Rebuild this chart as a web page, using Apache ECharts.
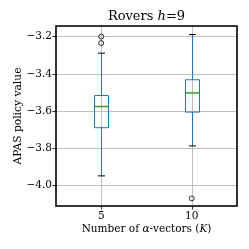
<!DOCTYPE html>
<html><head><meta charset="utf-8">
<script src="https://cdn.jsdelivr.net/npm/echarts@6/dist/echarts.min.js"></script>
<style>html,body{margin:0;padding:0;background:#fff}#c{width:249px;height:249px}</style>
</head><body><div id="c"></div>
<script>
const categories = ['5', '10'];
const whiskerLow = [-3.949, -3.788];
const q1 = [-3.690, -3.606];
const median = [-3.576, -3.503];
const q3 = [-3.517, -3.432];
const whiskerHigh = [-3.289, -3.189];
const outliers5 = [-3.200, -3.235];
const outliers10 = [-4.070];
const yMin = -4.111, yMax = -3.143;

const FONT = 'DejaVu Serif';
const fmt = v => (Math.abs(v) < 1e-9 ? '0.0' : v.toFixed(1).replace('-', '\u2212'));

const boxData = categories.map((c, i) => [i, whiskerLow[i], q1[i], median[i], q3[i], whiskerHigh[i]]);
const outlierData = [];
outliers5.forEach(v => outlierData.push([0, v]));
outliers10.forEach(v => outlierData.push([1, v]));

const chart = echarts.init(document.getElementById('c'), null, {renderer: 'canvas'});
chart.setOption({
  animation: false,
  backgroundColor: '#fff',
  title: {
    text: '{n|Rovers }{i|h}{n|=9}',
    left: 'center', top: 5,
    textStyle: {fontWeight: 'normal', rich: {
      n: {fontFamily: FONT, fontSize: 13, fontWeight: 'normal', color: '#000'},
      i: {fontFamily: FONT, fontSize: 13, fontWeight: 'normal', fontStyle: 'italic', color: '#000'}
    }}
  },
  grid: {left: 56, right: 12, top: 26, bottom: 43, show: false, containLabel: false, outerBoundsMode: 'none'},
  xAxis: {
    type: 'category', data: categories, boundaryGap: true,
    axisLine: {show: false},
    axisTick: {show: true, alignWithLabel: true, length: 3.5, lineStyle: {color: '#000', width: 0.8}},
    axisLabel: {fontFamily: FONT, fontSize: 10.5, color: '#000', margin: 5},
    splitLine: {show: false},
    name: '{n|Number of }{i|\u03b1}{n|-vectors (}{i|K}{n|)}',
    nameLocation: 'middle', nameGap: 18, nameMoveOverlap: false,
    nameTextStyle: {rich: {
      n: {fontFamily: FONT, fontSize: 10.5, color: '#000'},
      i: {fontFamily: FONT, fontSize: 10.5, fontStyle: 'italic', color: '#000'}
    }}
  },
  yAxis: {
    type: 'value', min: yMin, max: yMax,
    axisLine: {show: false},
    axisTick: {show: true, length: 3.5, lineStyle: {color: '#000', width: 0.8}},
    axisLabel: {fontFamily: FONT, fontSize: 10.5, color: '#000', margin: 4, formatter: fmt,
      showMinLabel: false, showMaxLabel: false},
    splitLine: {show: true, lineStyle: {color: '#b0b0b0', width: 0.8}},
    name: 'APAS policy value', nameLocation: 'middle', nameGap: 32, nameMoveOverlap: false,
    nameTextStyle: {fontFamily: FONT, fontSize: 10.7, color: '#000'}
  },
  series: [
    {
      type: 'custom', data: boxData, z: 3,
      encode: {x: 0, y: [1, 2, 3, 4, 5]},
      renderItem: function (params, api) {
        const x = api.value(0);
        const lo = api.coord([x, api.value(1)]);
        const b1 = api.coord([x, api.value(2)]);
        const md = api.coord([x, api.value(3)]);
        const b3 = api.coord([x, api.value(4)]);
        const hi = api.coord([x, api.value(5)]);
        const cs = params.coordSys;
        const bw = api.size([1, 0])[0] * 0.155;
        const cx = Math.round(lo[0]) + 0.5;
        const half = bw / 2, capHalf = bw / 4;
        const blue = '#1f77b4';
        return {type: 'group', children: [
          {type: 'line', z2: -10, shape: {x1: cx, y1: cs.y, x2: cx, y2: cs.y + cs.height}, style: {stroke: '#b0b0b0', lineWidth: 0.8}},
          {type: 'line', z2: 5, shape: {x1: cx, y1: b3[1], x2: cx, y2: hi[1]}, style: {stroke: blue, lineWidth: 1}},
          {type: 'line', z2: 5, shape: {x1: cx, y1: b1[1], x2: cx, y2: lo[1]}, style: {stroke: blue, lineWidth: 1}},
          {type: 'line', z2: 6, shape: {x1: cx - capHalf, y1: hi[1], x2: cx + capHalf, y2: hi[1]}, style: {stroke: '#000', lineWidth: 1}},
          {type: 'line', z2: 6, shape: {x1: cx - capHalf, y1: lo[1], x2: cx + capHalf, y2: lo[1]}, style: {stroke: '#000', lineWidth: 1}},
          {type: 'rect', z2: 5, shape: {x: cx - half, y: b3[1], width: bw, height: b1[1] - b3[1]}, style: {fill: 'none', stroke: blue, lineWidth: 1}},
          {type: 'line', z2: 7, shape: {x1: cx - half, y1: md[1], x2: cx + half, y2: md[1]}, style: {stroke: '#2ca02c', lineWidth: 1.5}}
        ]};
      }
    },
    {
      type: 'scatter', data: outlierData, z: 4,
      symbol: 'circle', symbolSize: 5,
      itemStyle: {color: 'rgba(0,0,0,0)', borderColor: '#000', borderWidth: 1}
    }
  ]
});
// centre the title over the plot area and draw the frame
const g = chart.getModel().getComponent('grid', 0).coordinateSystem.getRect();
chart.setOption({
  title: {left: g.x + g.width / 2 - 5, textAlign: 'center'},
  graphic: [{type: 'rect', z: 100, silent: true,
    shape: {x: g.x, y: g.y, width: g.width, height: g.height},
    style: {fill: 'none', stroke: '#000', lineWidth: 1.6}}]
});
</script></body></html>
